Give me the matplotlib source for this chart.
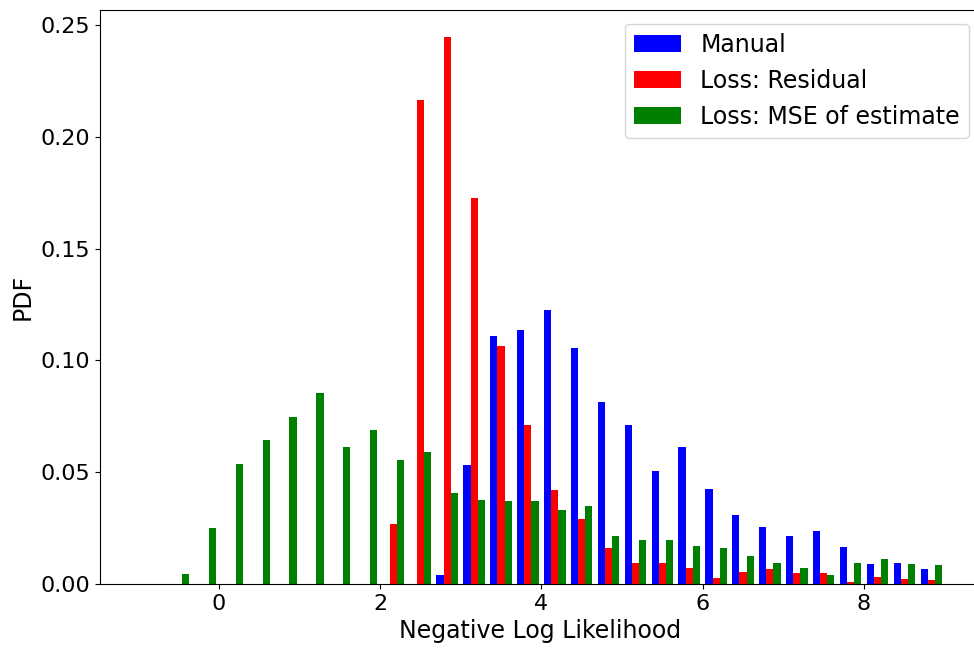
import matplotlib
matplotlib.use("Agg")
import matplotlib.pyplot as plt
import numpy as np

# 30 bins of width 1/3 from -1 to 9; values are per-bin PDF heights
BIN_LO, BIN_HI, N_BINS = -1.0, 9.0, 30

manual = [0, 0, 0, 0, 0, 0, 0, 0, 0, 0, 0,
          0.0041, 0.0530, 0.1108, 0.1138, 0.1225, 0.1055, 0.0814, 0.0713, 0.0507,
          0.0613, 0.0424, 0.0307, 0.0254, 0.0213, 0.0237, 0.0165, 0.0089, 0.0095, 0.0065]
residual = [0, 0, 0, 0, 0, 0, 0, 0, 0,
            0.0267, 0.2165, 0.2445, 0.1725, 0.1065, 0.0712, 0.0420, 0.0290, 0.0161, 0.0095,
            0.0095, 0.0073, 0.0025, 0.0055, 0.0065, 0.0048, 0.0048, 0.0007, 0.0030, 0.0024, 0.0018]
mse = [0, 0.0043, 0.0249, 0.0536, 0.0643, 0.0749, 0.0854, 0.0613, 0.0689, 0.0554,
       0.0590, 0.0408, 0.0377, 0.0372, 0.0372, 0.0330, 0.0348, 0.0213, 0.0196, 0.0196,
       0.0171, 0.0159, 0.0124, 0.0095, 0.0071, 0.0042, 0.0095, 0.0113, 0.0089, 0.0083]

labels = ["Manual", "Loss: Residual", "Loss: MSE of estimate"]
colors = ["blue", "red", "green"]

edges = np.linspace(BIN_LO, BIN_HI, N_BINS + 1)
centers = (edges[:-1] + edges[1:]) / 2

fig = plt.figure(figsize=(9.74, 6.48), dpi=100)
ax = fig.add_axes([0.1027, 0.0988, 0.9045, 0.8858])
ax.hist([centers] * 3, bins=edges, weights=[manual, residual, mse],
        color=colors, label=labels)

ax.set_xlim(-1.47, 9.45)
ax.set_xticks([0, 2, 4, 6, 8])
ax.tick_params(labelsize=16)
ax.set_xlabel("Negative Log Likelihood", fontsize=17)
ax.set_ylabel("PDF", fontsize=17)
ax.legend(fontsize=17, loc="upper right", labelspacing=0.5,
          bbox_to_anchor=(1.0, 0.997))

fig.savefig("out.png", dpi=100)
